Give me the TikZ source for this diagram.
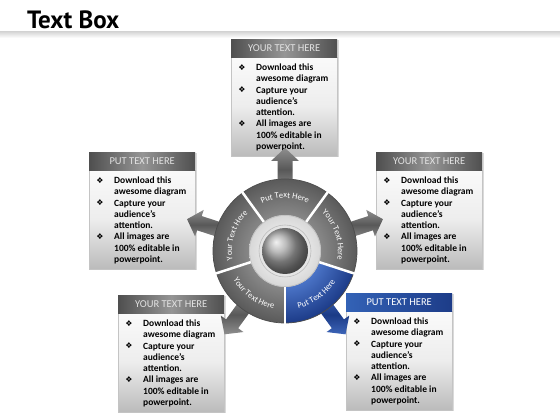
\documentclass[tikz,border=0pt]{standalone}
\usepackage{fontspec}
\setmainfont{Carlito}
\newfontfamily\titlefont{PT Sans}
\newfontfamily\bulfont{DejaVu Sans}
\usetikzlibrary{decorations.text}
\definecolor{rgA}{HTML}{878787}
\definecolor{rgB}{HTML}{5A5A5A}
\definecolor{rbA}{HTML}{4A73C6}
\definecolor{rbB}{HTML}{1C3B88}
\pgfdeclareradialshading{ringgray}{\pgfpoint{0bp}{0bp}}{color(0bp)=(rgA); color(12.5bp)=(rgA); color(25bp)=(rgB); color(50bp)=(rgB)}
\pgfdeclareradialshading{ringblue}{\pgfpoint{0bp}{0bp}}{color(0bp)=(rbA); color(12.5bp)=(rbA); color(25bp)=(rbB); color(50bp)=(rbB)}
\definecolor{hdrD}{HTML}{4F4F4F}
\definecolor{hdrM}{HTML}{959595}
\definecolor{hbL}{HTML}{3362B6}
\definecolor{hbR}{HTML}{1D3C88}
\definecolor{bodyT}{HTML}{FAFAFA}
\definecolor{bodyM}{HTML}{EDEDED}
\definecolor{bodyB}{HTML}{BBBBBB}
\definecolor{boxline}{HTML}{C4C4C4}
\definecolor{shadowc}{HTML}{DADADA}
\definecolor{hdrtxt}{HTML}{E2E2E2}
\definecolor{arrL}{HTML}{8E8E8E}
\definecolor{arrD}{HTML}{585858}
\definecolor{arrBL}{HTML}{3D65B8}
\definecolor{arrBD}{HTML}{1B3A86}
\definecolor{bandc}{HTML}{D8D8D8}
\definecolor{ringedge}{HTML}{4C4C4C}
\definecolor{discedge}{HTML}{BDBDBD}
\newcommand{\segfont}{\fontsize{8.5}{10}\selectfont}
\newcommand{\tbox}[5]{%
  \fill[shadowc] ({#2+1.5},{#3-118.5}) rectangle ({#2+107.5},{#3-1.5});
  \node[bodybox, anchor=north west] (#1-b) at (#2,{#3-18}) {};
  \node[#4, anchor=north west] (#1-h) at (#2,#3) {#5};
  \foreach \txt [count=\i] in {Download this, awesome diagram, Capture your, audience’s, attention., All images are, 100\% editable in, powerpoint.}
    {\node[bodytext] (#1-l\i) at ({#2+25},{#3-31.5-(\i-1)*11.3}) {\txt};}
  \foreach \i in {1,3,6}
    {\node[bulletmark] (#1-u\i) at ({#2+11},{#3-28.5-(\i-1)*11.3}) {❖};}
}
\newcommand{\segarrow}[2]{%
  \begin{scope}[shift={(C)}, rotate=#1]
    \path[#2] (60,-7.5) -- (90,-7.5) -- (90,-14) -- (103,0) -- (90,14) -- (90,7.5) -- (60,7.5) -- cycle;
  \end{scope}}
\begin{document}
\begin{tikzpicture}[x=1pt,y=1pt,
  bodybox/.style={draw=boxline, line width=0.4, top color=bodyT, bottom color=bodyB, middle color=bodyM, minimum width=106, minimum height=99, inner sep=0, outer sep=0},
  hdrgray/.style={left color=hdrD, right color=hdrD, middle color=hdrM, minimum width=106, minimum height=18, inner sep=0, text=hdrtxt, font=\fontsize{10.5}{12}\selectfont},
  hdrblue/.style={left color=hbL, right color=hbR, minimum width=106, minimum height=18, inner sep=0, text=white, font=\fontsize{10.5}{12}\selectfont},
  bodytext/.style={anchor=base west, inner sep=0, font=\fontsize{9.5}{11}\selectfont\bfseries},
  bulletmark/.style={inner sep=0, font=\bulfont\fontsize{8}{9}\selectfont},
  arrgray/.style={top color=arrL, bottom color=arrL, middle color=arrD},
  arrblue/.style={top color=arrBL, bottom color=arrBL, middle color=arrBD},
  segtext/.style={decorate, decoration={text along path, text align=center, text={|\color{white}\segfont|#1}}}
]
\useasboundingbox (0,0) rectangle (560,420);
\fill[white] (0,0) rectangle (560,420);
\shade[top color=bandc, bottom color=white] (0,382) rectangle (560,388);
\node[anchor=base west, inner sep=0, font=\titlefont\bfseries\fontsize{25}{30}\selectfont] (title) at (27,391.7) {Text Box};

\coordinate (C) at (285,169);

\tbox{tb}{231}{381}{hdrgray}{YOUR TEXT HERE}
\tbox{lb}{89}{268}{hdrgray}{PUT TEXT HERE}
\tbox{rb}{376}{268}{hdrgray}{YOUR TEXT HERE}
\tbox{bl}{118}{125}{hdrgray}{YOUR TEXT HERE}
\tbox{br}{346}{127}{hdrblue}{PUT TEXT HERE}

\segarrow{90}{arrgray}
\segarrow{18}{arrgray}
\segarrow{162}{arrgray}
\segarrow{234}{arrgray}
\segarrow{306}{arrblue}

\begin{scope}[shift={(C)}]
  \shade[shading=ringgray] (0,0) circle (72);
  \begin{scope}
    \clip (270:72) arc[start angle=270, end angle=342, radius=72] -- (342:36) arc[start angle=342, end angle=270, radius=36] -- cycle;
    \shade[shading=ringblue] (0,0) circle (72);
  \end{scope}
  \draw[ringedge, line width=0.7] (0,0) circle (72);
  \foreach \a in {54,126,198,270,342}
    \draw[white, line width=2.5] (\a:34) -- (\a:74);
  \shade[inner color=white, outer color=discedge!60] (0,0) circle (36);
  \draw[discedge, line width=0.5] (0,0) circle (35.5);
  \draw[discedge, line width=0.6] (0,0) circle (26);
  \shade[ball color=gray!70!white] (0,0) circle (23);
  \path[segtext={Put Text Here}] (126:53) arc[start angle=126, end angle=54, radius=53];
  \path[segtext={Your Text Here}] (54:53) arc[start angle=54, end angle=-18, radius=53];
  \path[segtext={Your Text Here}] (198:53) arc[start angle=198, end angle=126, radius=53];
  \path[segtext={Your Text Here}] (198:59) arc[start angle=198, end angle=270, radius=59];
  \path[segtext={Put Text Here}] (270:59) arc[start angle=270, end angle=342, radius=59];
\end{scope}
\end{tikzpicture}
\end{document}
